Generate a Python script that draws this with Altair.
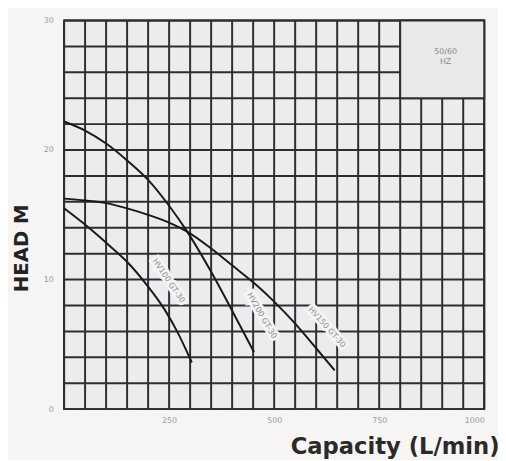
import altair as alt
import pandas as pd

# ---- data ----
a_x = [0, 50, 100, 150, 200, 250, 293, 350, 400, 452]
a_y = [22.2, 21.5, 20.5, 19.2, 17.7, 15.7, 13.7, 10.6, 7.6, 4.4]
b_x = [0, 50, 100, 150, 200, 250, 293, 350, 400, 457, 500, 550, 600, 644]
b_y = [16.25, 16.1, 15.9, 15.5, 15.0, 14.4, 13.7, 12.4, 11.1, 9.6, 8.3, 6.6, 4.7, 3.0]
c_x = [0, 59, 112, 152, 199, 239, 269, 304]
c_y = [15.5, 14.0, 12.5, 11.3, 9.5, 7.7, 6.0, 3.6]

curve_names = ["HV200 GT-30", "HV150 GT-30", "HV100 GT-30"]
label_x = [470, 625, 248]
label_y = [7.2, 6.3, 9.9]
label_angle = [60, 48, 56]

x_grid = list(range(0, 1001, 50))
y_grid = list(range(0, 31, 2))
x_tick_labels = [250, 500, 750, 1000]
y_tick_labels = [0, 10, 20, 30]

box = {"x": 800, "x2": 1000, "y": 24, "y2": 30}
box_text = ["50/60", "HZ"]

rows = []
for name, xs_, ys_ in zip(curve_names, [a_x, b_x, c_x], [a_y, b_y, c_y]):
    for xv, yv in zip(xs_, ys_):
        rows.append({"series": name, "q": xv, "h": yv})
curves = pd.DataFrame(rows)
labels = pd.DataFrame({"series": curve_names, "q": label_x, "h": label_y, "angle": label_angle})
box_df = pd.DataFrame([box])
box_txt = pd.DataFrame({"q": [908], "h": [27.6], "t": [box_text]})
xg = pd.DataFrame({"q": x_grid})
yg = pd.DataFrame({"h": y_grid})

xs = alt.Scale(domain=[0, 1000], nice=False, zero=False)
ys = alt.Scale(domain=[0, 30], nice=False, zero=False)

x_axis = alt.Axis(
    values=x_tick_labels, grid=False, format="d",
    domain=False, ticks=False, labelOverlap=False,
    labelColor="#9a9a9a", labelFontSize=8, labelPadding=8, labelFont="DejaVu Sans",
    title="Capacity (L/min)", titleFont="DejaVu Sans", titleFontSize=23, titleFontWeight=600,
    titleColor="#2a2a2a", titleAnchor="end", titleAlign="right", titleX=442, titleY=45,
    titleBaseline="alphabetic",
)
y_axis = alt.Axis(
    values=y_tick_labels, grid=False, format="d",
    domain=False, ticks=False, labelOverlap=False,
    labelColor="#9a9a9a", labelFontSize=8, labelPadding=11, labelFont="DejaVu Sans",
    title="HEAD M", titleFont="DejaVu Sans", titleFontSize=20, titleFontWeight="bold",
    titleColor="#222222", titleX=-43, titleY=231, titleAngle=-90, titleBaseline="middle",
    titleAlign="center",
)

vgrid = alt.Chart(xg).mark_rule(color="#2e2e2e", strokeWidth=2).encode(
    x=alt.X("q:Q", scale=xs, axis=x_axis)
)
hgrid = alt.Chart(yg).mark_rule(color="#2e2e2e", strokeWidth=2).encode(
    y=alt.Y("h:Q", scale=ys, axis=y_axis)
)

lines = alt.Chart(curves).mark_line(color="#1a1a1a", strokeWidth=2, interpolate="monotone").encode(
    x=alt.X("q:Q", scale=xs),
    y=alt.Y("h:Q", scale=ys),
    detail="series:N",
)

rect = alt.Chart(box_df).mark_rect(fill="#e9e8ea", stroke="#2e2e2e", strokeWidth=2).encode(
    x=alt.X("x:Q", scale=xs), x2="x2:Q", y=alt.Y("y:Q", scale=ys), y2="y2:Q"
)
rtext = alt.Chart(box_txt).mark_text(fontSize=8, color="#8a8a8a", lineHeight=11, font="DejaVu Sans").encode(
    x=alt.X("q:Q", scale=xs), y=alt.Y("h:Q", scale=ys), text="t"
)

halo = alt.Chart(labels).mark_text(fontSize=8, color="#f4f4f4", stroke="#f4f4f4", strokeWidth=6,
                                   font="DejaVu Sans").encode(
    x=alt.X("q:Q", scale=xs), y=alt.Y("h:Q", scale=ys), text="series:N",
    angle=alt.Angle("angle:Q", scale=None)
)
ltext = alt.Chart(labels).mark_text(fontSize=8, color="#8e8e8e", font="DejaVu Sans").encode(
    x=alt.X("q:Q", scale=xs), y=alt.Y("h:Q", scale=ys), text="series:N",
    angle=alt.Angle("angle:Q", scale=None)
)

chart = alt.layer(vgrid, hgrid, rect, rtext, lines, halo, ltext).properties(
    width=427, height=395,
    autosize="none",
    padding={"left": 57, "top": 9, "right": 14, "bottom": 48},
    background="#f6f5f3",
).configure_view(fill="#ecebee", stroke="#222222", strokeWidth=2)

chart.save("out.html", embed_options={"renderer": "svg", "actions": False})
